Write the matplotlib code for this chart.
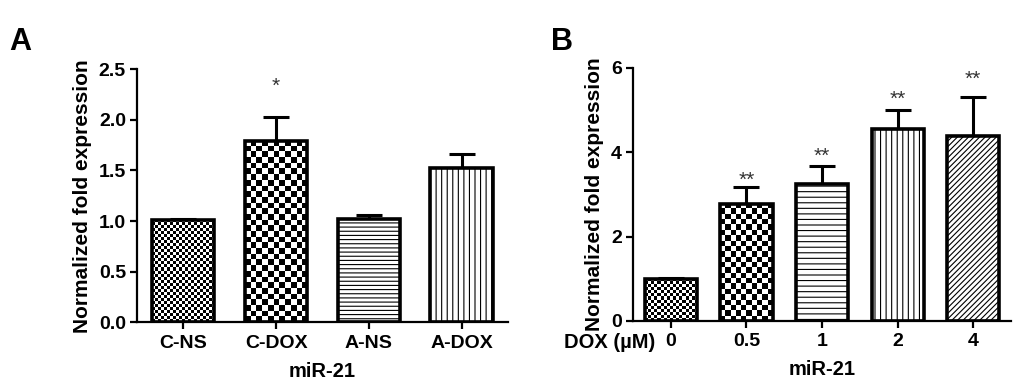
import matplotlib
matplotlib.use("Agg")
import matplotlib.pyplot as plt
import matplotlib.transforms as mtransforms
import numpy as np

plt.rcParams['font.family'] = ['Liberation Sans', 'DejaVu Sans']
plt.rcParams['font.weight'] = 'bold'
plt.rcParams['hatch.linewidth'] = 0.8

# panel A
a_labels = ["C-NS", "C-DOX", "A-NS", "A-DOX"]
a_vals = [1.01, 1.79, 1.02, 1.52]
a_errs = [0.01, 0.24, 0.04, 0.14]
a_stars = ["", "*", "", ""]
a_star_y = [0, 2.33, 0, 0]

# panel B
b_labels = ["0", "0.5", "1", "2", "4"]
b_vals = [1.0, 2.78, 3.25, 4.55, 4.39]
b_errs = [0.03, 0.40, 0.42, 0.45, 0.93]
b_stars = ["", "**", "**", "**", "**"]
b_star_y = [0, 3.34, 3.90, 5.26, 5.73]

# fill styles: ("check", cell px) or ("hatch", pattern)
a_fills = [("check", 3.0), ("check", 5.6), ("hatch", "----"), ("hatch", "|||")]
b_fills = [("check", 3.0), ("check", 5.4), ("hatch", "---"), ("hatch", "|||"), ("hatch", "//////")]

fig = plt.figure(figsize=(10.24, 3.84), dpi=100)
axA = fig.add_axes([0.1338, 0.1607, 0.3622, 0.6589])
axB = fig.add_axes([0.6182, 0.1641, 0.3691, 0.6589])


def checker_fill(ax, bar, cell):
    bb = bar.get_window_extent()
    nx = max(1, int(round(bb.width / cell)))
    ny = max(1, int(round(bb.height / cell)))
    grid = np.indices((ny, nx)).sum(axis=0) % 2
    x0, y0 = bar.get_x(), bar.get_y()
    im = ax.imshow(grid, cmap="gray", interpolation="nearest", origin="lower",
                   extent=(x0, x0 + bar.get_width(), y0, y0 + bar.get_height()),
                   aspect="auto", zorder=1.9)
    im.set_clip_path(bar)


def draw_panel(ax, labels, vals, errs, stars, star_y, fills, ymax, yticks, width):
    x = np.arange(len(labels))
    ax.set_xlim(-0.5, len(labels) - 0.5)
    ax.set_ylim(0, ymax)
    ax.errorbar(x, vals, yerr=[np.zeros(len(vals)), errs], fmt="none", ecolor="k",
                elinewidth=2.2, capsize=9.5, capthick=2.2, zorder=1.5)
    bars = ax.bar(x, vals, width=width, color="white", edgecolor="black",
                  linewidth=2.6, zorder=2)
    for bar, (kind, spec) in zip(bars, fills):
        if kind == "check":
            bar.set_facecolor("none")
            checker_fill(ax, bar, spec)
        else:
            bar.set_hatch(spec)
    ax.set_xlim(-0.5, len(labels) - 0.5)
    ax.set_ylim(0, ymax)
    for xi, s, sy in zip(x, stars, star_y):
        if s:
            ax.text(xi, sy, s, ha="center", va="center", fontsize=15,
                    fontweight="normal", color="#333333")
    ax.set_xticks(x)
    ax.set_xticklabels(labels)
    ax.set_yticks(yticks)
    ax.spines["top"].set_visible(False)
    ax.spines["right"].set_visible(False)
    for sp in ("left", "bottom"):
        ax.spines[sp].set_linewidth(1.6)
    ax.tick_params(axis="both", length=5, width=1.6, labelsize=14)
    ax.tick_params(axis="x", pad=4)
    ax.tick_params(axis="y", pad=3)
    ax.set_ylabel("Normalized fold expression", fontsize=15, fontweight="bold", labelpad=5)
    ax.set_xlabel("miR-21", fontsize=14.5, fontweight="bold", labelpad=7)


draw_panel(axA, a_labels, a_vals, a_errs, a_stars, a_star_y, a_fills, 2.5,
           [0.0, 0.5, 1.0, 1.5, 2.0, 2.5], 0.67)
axA.yaxis.set_major_formatter(matplotlib.ticker.FormatStrFormatter("%.1f"))

draw_panel(axB, b_labels, b_vals, b_errs, b_stars, b_star_y, b_fills, 6,
           [0, 2, 4, 6], 0.69)

trans = mtransforms.blended_transform_factory(axB.transData, axB.transAxes)
axB.text(-0.21, -0.087, "DOX (\u00b5M)", transform=trans, ha="right", va="center",
         fontsize=14.5, fontweight="bold")

fig.text(0.009, 0.89, "A", fontsize=22, fontweight="bold", ha="left", va="center")
fig.text(0.538, 0.89, "B", fontsize=22, fontweight="bold", ha="left", va="center")

fig.savefig("out.png", dpi=100)
